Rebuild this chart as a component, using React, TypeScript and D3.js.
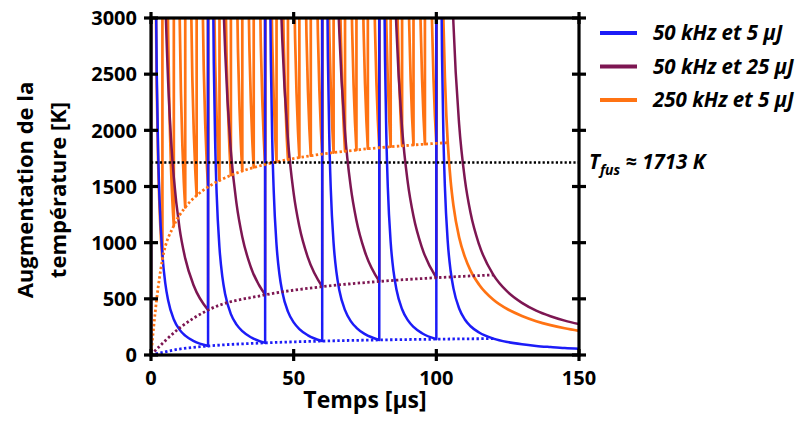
import React from "react";
import * as d3 from "d3";

type P = [number, number];

const xTicks = [0, 50, 100, 150];
const yTicks = [0, 500, 1000, 1500, 2000, 2500, 3000];
const legendLabels = ["50 kHz et 5 µJ", "50 kHz et 25 µJ", "250 kHz et 5 µJ"];
const seriesColors = ["#1c1cf7", "#7d1652", "#ff7313"];
const tFus = 1713;
const spikePeak = 9000;

// 50 kHz, 5 µJ
const bluePulses = [0, 20, 40, 60, 80, 100];
const blueDecay: P[][] = [
  [[1.5, 3895], [2, 2530], [2.5, 1810], [3, 1377], [4, 894], [5, 640], [6, 487], [8, 316], [10, 226], [12, 172], [15, 123], [20, 80]],
  [[21.5, 3967], [22, 2599], [22.5, 1877], [23, 1442], [24, 955], [25, 697], [26, 541], [28, 364], [30, 270], [32, 212], [35, 158], [40, 108]],
  [[41.5, 3994], [42, 2626], [42.5, 1903], [43, 1467], [44, 979], [45, 721], [46, 564], [48, 386], [50, 290], [52, 231], [55, 175], [60, 124]],
  [[61.5, 4008], [62, 2640], [62.5, 1917], [63, 1482], [64, 993], [65, 735], [66, 577], [68, 399], [70, 302], [72, 242], [75, 186], [80, 134]],
  [[81.5, 4018], [82, 2650], [82.5, 1927], [83, 1491], [84, 1003], [85, 744], [86, 586], [88, 407], [90, 310], [92, 250], [95, 194], [100, 141]],
  [[101.5, 4025], [102, 2657], [102.5, 1934], [103, 1498], [104, 1009], [105, 750], [106, 593], [108, 414], [110, 316], [112, 256], [115, 200], [120, 146], [125, 115], [130, 95], [135, 81], [140, 71], [145, 62], [150, 56]],
];
const blueEnvelope: P[] = [[0, 0], [10, 53], [20, 80], [40, 108], [60, 124], [80, 134], [100, 141], [120, 146]];

// 50 kHz, 25 µJ
const purplePulses = [0, 20, 40, 60, 80, 100];
const purpleDecay: P[][] = [
  [[3, 6885], [4, 4470], [5, 3200], [6, 2435], [7, 1930], [8, 1580], [10, 1130], [12, 860], [15, 616], [20, 400]],
  [[23, 7203], [24, 4768], [25, 3478], [26, 2698], [28, 1813], [30, 1343], [32, 1051], [35, 781], [40, 535]],
  [[43, 7325], [44, 4885], [45, 3595], [46, 2810], [48, 1919], [50, 1439], [52, 1143], [55, 866], [60, 608]],
  [[63, 7396], [64, 4951], [65, 3659], [66, 2872], [68, 1980], [70, 1497], [72, 1198], [75, 917], [80, 655]],
  [[83, 7438], [84, 4998], [85, 3703], [86, 2914], [88, 2019], [90, 1535], [92, 1235], [95, 953], [100, 688]],
  [[103, 7472], [104, 5027], [105, 3734], [106, 2946], [108, 2051], [110, 1564], [112, 1264], [115, 982], [120, 713], [125, 561], [130, 464], [135, 395], [140, 345], [145, 306], [150, 275]],
];
const purpleEnvelope: P[] = [[0, 0], [10, 240], [20, 400], [40, 535], [60, 608], [80, 655], [100, 688], [120, 713]];

// 250 kHz, 5 µJ
const orangePulses = [0, 4, 8, 12, 16, 20, 24, 28, 32, 36, 40, 44, 48, 52, 56, 60, 64, 68, 72, 76, 80, 84, 88, 92, 96, 100];
const orangeOffsets = [1.5, 2, 2.5, 3, 3.5, 4];
const orangeDecay = [
  [3702, 2404, 1720, 1309, 1038, 850],
  [4229, 2867, 2130, 1676, 1369, 1151],
  [4461, 3082, 2330, 1862, 1543, 1314],
  [4598, 3212, 2453, 1979, 1654, 1420],
  [4690, 3299, 2538, 2061, 1734, 1496],
  [4759, 3366, 2602, 2124, 1794, 1554],
  [4812, 3418, 2653, 2173, 1841, 1600],
  [4855, 3460, 2694, 2213, 1880, 1638],
  [4891, 3495, 2727, 2245, 1912, 1669],
  [4920, 3524, 2756, 2273, 1940, 1696],
  [4946, 3549, 2780, 2297, 1963, 1719],
  [4968, 3571, 2802, 2319, 1984, 1740],
  [4988, 3590, 2821, 2338, 2003, 1758],
  [5005, 3607, 2838, 2354, 2019, 1774],
  [5021, 3622, 2853, 2369, 2034, 1789],
  [5035, 3637, 2867, 2383, 2047, 1802],
  [5048, 3649, 2880, 2395, 2060, 1814],
  [5059, 3661, 2891, 2406, 2071, 1825],
  [5070, 3672, 2902, 2417, 2082, 1836],
  [5080, 3682, 2912, 2427, 2091, 1845],
  [5089, 3691, 2921, 2436, 2100, 1854],
  [5098, 3699, 2929, 2444, 2108, 1862],
  [5106, 3707, 2937, 2452, 2116, 1870],
  [5114, 3715, 2944, 2459, 2123, 1877],
  [5121, 3722, 2951, 2466, 2130, 1884],
];
const orangeTail: P[] = [[101.5, 5127], [102, 3728], [102.5, 2958], [103, 2472], [103.5, 2136], [104, 1890], [105, 1553], [106, 1330], [108, 1046], [110, 873], [112, 751], [115, 626], [120, 492], [125, 407], [130, 347], [135, 301], [140, 266], [145, 238], [150, 215]];
const orangeEnvelope: P[] = [[0, 0], [2, 500], [4, 850], [8, 1151], [12, 1314], [16, 1420], [20, 1496], [24, 1554], [28, 1600], [32, 1638], [36, 1669], [40, 1696], [44, 1719], [48, 1740], [52, 1758], [56, 1774], [60, 1789], [64, 1802], [68, 1814], [72, 1825], [76, 1836], [80, 1845], [84, 1854], [88, 1862], [92, 1870], [96, 1877], [100, 1884], [104, 1890]];

const FONT = "'Open Sans', 'Liberation Sans', sans-serif";

export default function App() {
  const x0 = 151, x1 = 579, y0 = 355, y1 = 18;
  const x = d3.scaleLinear().domain([0, 150]).range([x0, x1]);
  const y = d3.scaleLinear().domain([0, 3000]).range([y0, y1]);
  const curve = d3.line<P>().x((d) => x(d[0])).y((d) => y(d[1])).curve(d3.curveMonotoneX);
  const envLine = d3.line<P>().x((d) => x(d[0])).y((d) => y(d[1])).curve(d3.curveMonotoneX);

  const seriesPath = (pulses: number[], decays: P[][]) => {
    let d = `M${x(0)},${y(0)}`;
    pulses.forEach((t, i) => {
      const pts: P[] = [[t, spikePeak], ...decays[i]];
      d += `L${x(t)},${y(spikePeak)}` + (curve(pts) || "").replace(/^M/, "L");
    });
    return d;
  };

  const orangeSegs: P[][] = orangeDecay
    .map((row, k) => row.map((v, j) => [orangePulses[k] + orangeOffsets[j], v] as P))
    .concat([orangeTail]);

  const series = [
    { pulses: orangePulses, decays: orangeSegs, env: orangeEnvelope, color: seriesColors[2], w: 2.7 },
    { pulses: purplePulses, decays: purpleDecay, env: purpleEnvelope, color: seriesColors[1], w: 2.5 },
    { pulses: bluePulses, decays: blueDecay, env: blueEnvelope, color: seriesColors[0], w: 2.5 },
  ];

  const tickLen = 7;
  const axisW = 3.2;

  return (
    <svg width={800} height={425} style={{ position: "absolute", left: 0, top: 0, background: "#fff" }} fontFamily={FONT}>
      <defs>
        <clipPath id="plot">
          <rect x={x0} y={y1} width={x1 - x0} height={y0 - y1} />
        </clipPath>
      </defs>
      <g clipPath="url(#plot)">
        {series.map((s, i) => (
          <path key={"s" + i} d={seriesPath(s.pulses, s.decays)} fill="none" stroke={s.color} strokeWidth={s.w} strokeLinejoin="round" />
        ))}
        {series.map((s, i) => (
          <path key={"e" + i} d={envLine(s.env) || ""} fill="none" stroke={s.color} strokeWidth={2.8} strokeDasharray="2.4 2.4" />
        ))}
        <line x1={x(0)} x2={x(150)} y1={y(tFus)} y2={y(tFus)} stroke="#000" strokeWidth={2.4} strokeDasharray="2.2 2.2" />
      </g>
      {/* frame */}
      <rect x={x0} y={y1} width={x1 - x0} height={y0 - y1} fill="none" stroke="#000" strokeWidth={axisW} />
      {xTicks.map((t) => (
        <g key={"xt" + t}>
          <line x1={x(t)} x2={x(t)} y1={y0 - tickLen + 1} y2={y0 + tickLen - 1} stroke="#000" strokeWidth={axisW} />
          <line x1={x(t)} x2={x(t)} y1={y1 - tickLen + 1} y2={y1 + tickLen - 1} stroke="#000" strokeWidth={axisW} />
          <text x={x(t)} y={385} textAnchor="middle" fontSize={20} fontWeight={700}>{t}</text>
        </g>
      ))}
      {yTicks.map((t) => (
        <g key={"yt" + t}>
          <line x1={x0 - tickLen} x2={x0 + tickLen} y1={y(t)} y2={y(t)} stroke="#000" strokeWidth={axisW} />
          <line x1={x1 - tickLen} x2={x1 + tickLen} y1={y(t)} y2={y(t)} stroke="#000" strokeWidth={axisW} />
          <text x={137} y={y(t)} dy="0.36em" textAnchor="end" fontSize={20} fontWeight={700}>{t}</text>
        </g>
      ))}
      <text x={365} y={408} textAnchor="middle" fontSize={23} fontWeight={700}>Temps [µs]</text>
      <g transform="translate(0,190) rotate(-90)">
        <text x={0} y={33} textAnchor="middle" fontSize={22} fontWeight={700}>Augmentation de la</text>
        <text x={0} y={66} textAnchor="middle" fontSize={22} fontWeight={700}>température [K]</text>
      </g>
      {legendLabels.map((lab, i) => (
        <g key={"lg" + i}>
          <line x1={600} x2={637} y1={33 + i * 33.5} y2={33 + i * 33.5} stroke={seriesColors[i]} strokeWidth={4} />
          <text x={653} y={33 + i * 33.5} dy="0.36em" fontSize={20.5} fontWeight={700} fontStyle="italic">{lab}</text>
        </g>
      ))}
      <text x={589} y={y(tFus) + 6} fontSize={20.5} fontWeight={700} fontStyle="italic">
        T<tspan fontSize={14} dy={6}>fus</tspan><tspan dy={-6}> ≈ {tFus} K</tspan>
      </text>
    </svg>
  );
}
